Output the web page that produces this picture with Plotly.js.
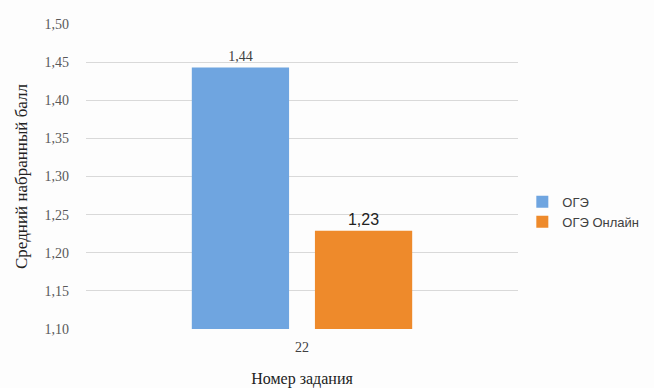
<!DOCTYPE html>
<html>
<head>
<meta charset="utf-8">
<script src="https://cdn.plot.ly/plotly-3.0.1.min.js"></script>
<style>
html,body{margin:0;padding:0;background:#fdfdfd;}
#chart .xtick text, #chart .ytick text, #chart .g-xtitle text, #chart .g-ytitle text,
#chart .barlayer .trace:nth-child(1) text { font-family: 'Liberation Serif' !important; }
#chart .legendtext, #chart .barlayer .trace:nth-child(2) text { font-family: 'Liberation Sans' !important; }
</style>
</head>
<body>
<div id="chart" style="width:654px;height:388px;"></div>
<script>
const categories = ['22'];
const seriesNames = ['ОГЭ', 'ОГЭ Онлайн'];
const ogeValues = [1.443];
const ogeOnlineValues = [1.229];
const yTicks = [1.10, 1.15, 1.20, 1.25, 1.30, 1.35, 1.40, 1.45, 1.50];

const traces = [
  {
    type: 'bar', name: seriesNames[0], x: categories, y: ogeValues,
    marker: {color: '#6fa5e0'},
    texttemplate: '%{y:.2f}', textposition: 'outside',
    textfont: {family: 'Liberation Serif', size: 14, color: '#404040'},
    cliponaxis: false
  },
  {
    type: 'bar', name: seriesNames[1], x: categories, y: ogeOnlineValues,
    marker: {color: '#ee8a2b'},
    texttemplate: '%{y:.2f}', textposition: 'outside',
    textfont: {family: 'Liberation Sans', size: 16, color: '#222'},
    cliponaxis: false
  }
];

const layout = {
  width: 654, height: 388,
  margin: {l: 86, r: 136, t: 24, b: 59, autoexpand: false},
  paper_bgcolor: '#fdfdfd', plot_bgcolor: '#fdfdfd',
  separators: ',.',
  barmode: 'group', bargap: 0.43, bargroupgap: 0.21,
  font: {family: 'Liberation Serif', size: 13, color: '#595959'},
  xaxis: {
    type: 'category', showgrid: false, showline: false, zeroline: false,
    ticks: '', ticklabelstandoff: 8, automargin: false,
    tickfont: {family: 'Liberation Serif', size: 14, color: '#404040'},
    title: {text: 'Номер задания', font: {family: 'Liberation Serif', size: 16, color: '#222'}, standoff: 18}
  },
  yaxis: {
    range: [1.10, 1.50], tickvals: yTicks, tickformat: '.2f',
    gridcolor: '#d9d9d9', zeroline: false, showline: false, ticks: '',
    ticklabelstandoff: 16, automargin: false,
    tickfont: {family: 'Liberation Serif', size: 14, color: '#595959'},
    title: {text: 'Средний набранный балл', font: {family: 'Liberation Serif', size: 17, color: '#222'}, standoff: 12}
  },
  legend: {
    x: 1.01, xanchor: 'left', y: 0.384, yanchor: 'middle',
    font: {family: 'Liberation Sans', size: 13, color: '#404040'},
    tracegroupgap: 20, itemwidth: 30, bgcolor: 'rgba(0,0,0,0)',
    traceorder: 'normal'
  },
  showlegend: true
};

Plotly.newPlot('chart', traces, layout, {displayModeBar: false, staticPlot: true});
</script>
</body>
</html>
